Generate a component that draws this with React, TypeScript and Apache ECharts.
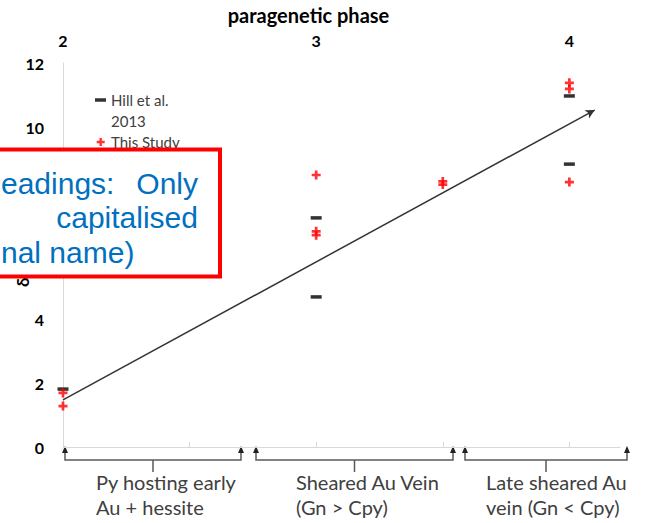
import React, { useEffect, useRef } from 'react';
import * as echarts from 'echarts';

// ---- data ----
const phaseTicks = [2, 3, 4];
const phaseMinorTicks = [2, 2.5, 3, 3.5, 4];
const seriesNames = ['Hill et al.\n2013', 'This Study'];
const hillData: [number, number][] = [
  [2, 1.81], [3, 7.16], [3, 4.69], [4, 10.97], [4, 8.84],
];
const studyData: [number, number][] = [
  [2, 1.69], [2, 1.28], [3, 8.5], [3, 6.62], [3, 6.74],
  [3.5, 8.2], [3.5, 8.3], [4, 11.38], [4, 11.19], [4, 8.28],
];
const trendStart: [number, number] = [2, 1.47];
const trendEnd: [number, number] = [4.1, 10.53];
const stageLabels = [
  'Py hosting early\nAu + hessite',
  'Sheared Au Vein\n(Gn > Cpy)',
  'Late sheared Au\nvein (Gn < Cpy)',
];
const noteLines = ['eadings:', 'Only', 'capitalised', 'nal name)'];

const CAL = 'Lato, "Open Sans", sans-serif';
const ARIAL = '"Liberation Sans", Arial, sans-serif';
const GREY_TXT = '#404040';
const BRACKET = '#595959';

const plusPath = 'path://M3.5,0h3v3.5h3.5v3h-3.5v3.5h-3v-3.5h-3.5v-3h3.5z';
const dashLegendIcon = 'path://M0,0L0,0ZM11,11L11,11ZM0,3.75h11v3.5h-11z';
const plusLegendIcon =
  'path://M0,0L0,0ZM11,11L11,11ZM4.5,1.5H6.9V4.3H9.7V6.7H6.9V9.5H4.5V6.7H1.7V4.3H4.5Z';

// bracket pixel spans (annotation under the plot)
const brackets = [
  { x1: 65, x2: 241, label: 96 },
  { x1: 256, x2: 453, label: 296 },
  { x1: 465, x2: 627, label: 486 },
];

function bracketGraphics() {
  const els: any[] = [];
  const yArrowTip = 446;
  const yBase = 453;
  const yLine = 460;
  brackets.forEach((b, i) => {
    els.push({
      type: 'polyline',
      shape: { points: [[b.x1, yBase], [b.x1, yLine], [b.x2, yLine], [b.x2, yBase]] },
      style: { stroke: BRACKET, lineWidth: 1.5, fill: null },
    });
    [b.x1, b.x2].forEach((x) => {
      els.push({
        type: 'polygon',
        shape: { points: [[x - 3, yBase], [x + 3, yBase], [x, yArrowTip]] },
        style: { fill: '#222', stroke: null },
      });
    });
    const mid = (b.x1 + b.x2) / 2;
    els.push({
      type: 'line',
      shape: { x1: mid, y1: yLine, x2: mid, y2: 472 },
      style: { stroke: BRACKET, lineWidth: 1.5 },
    });
    els.push({
      type: 'text',
      x: b.label,
      y: 469,
      style: {
        text: stageLabels[i],
        font: `20px ${CAL}`,
        fill: GREY_TXT,
        textAlign: 'left',
        textVerticalAlign: 'top',
        lineHeight: 25,
      },
    });
  });
  return els;
}

function noteGraphics() {
  const font = `30px ${ARIAL}`;
  const fill = '#0070C0';
  return [
    {
      type: 'rect',
      z: 100,
      shape: { x: -10, y: 149.5, width: 230, height: 127 },
      style: { fill: '#ffffff', stroke: '#ff0000', lineWidth: 4 },
    },
    { type: 'text', z: 101, x: 1, y: 183, style: { text: noteLines[0], font, fill, textAlign: 'left', textVerticalAlign: 'middle' } },
    { type: 'text', z: 101, x: 198, y: 183, style: { text: noteLines[1], font, fill, textAlign: 'right', textVerticalAlign: 'middle' } },
    { type: 'text', z: 101, x: 198, y: 217, style: { text: noteLines[2], font, fill, textAlign: 'right', textVerticalAlign: 'middle' } },
    { type: 'text', z: 101, x: 1, y: 252, style: { text: noteLines[3], font, fill, textAlign: 'left', textVerticalAlign: 'middle' } },
  ];
}

export default function App() {
  const ref = useRef<HTMLDivElement>(null);

  useEffect(() => {
    if (!ref.current) return;
    const chart = echarts.init(ref.current, null, { renderer: 'svg' });
    chart.setOption({
      animation: false,
      backgroundColor: '#ffffff',
      grid: { left: 63, right: 25, top: 63, bottom: 76, outerBoundsMode: 'none' },
      legend: {
        orient: 'vertical',
        left: 95,
        top: 68.5,
        padding: 0,
        itemGap: 0,
        itemWidth: 11,
        itemHeight: 11,
        selectedMode: false,
        formatter: (name: string) => (name === seriesNames[0] ? '\n' + name : name),
        textStyle: { fontFamily: CAL, fontSize: 15, color: GREY_TXT, lineHeight: 21 },
        data: [
          { name: seriesNames[0], icon: dashLegendIcon },
          { name: seriesNames[1], icon: plusLegendIcon },
        ],
      },
      xAxis: {
        type: 'value',
        position: 'top',
        min: 2,
        max: 4.2,
        interval: 0.5,
        name: 'paragenetic phase',
        nameLocation: 'middle',
        nameGap: 38,
        nameMoveOverlap: false,
        nameTextStyle: {
          fontFamily: CAL,
          fontWeight: 'bold',
          fontSize: 20,
          color: '#000',
          padding: [0, 66, 0, 0],
        },
        axisLine: { show: true, lineStyle: { color: '#d9d9d9', width: 1 } },
        axisTick: {
          show: true,
          length: 5,
          customValues: phaseMinorTicks,
          lineStyle: { color: '#d9d9d9' },
        },
        axisLabel: {
          customValues: phaseTicks,
          formatter: (v: number) => String(v),
          fontFamily: CAL,
          fontWeight: 'bold',
          fontSize: 16,
          color: '#000',
          margin: 15,
        },
        splitLine: { show: false },
      },
      yAxis: {
        type: 'value',
        min: 0,
        max: 12,
        interval: 2,
        name: 'δ³⁴S (‰)',
        nameLocation: 'middle',
        nameRotate: 90,
        nameGap: 32,
        nameMoveOverlap: false,
        nameTextStyle: { fontFamily: CAL, fontWeight: 'bold', fontSize: 17, color: '#000' },
        axisLine: { show: true, lineStyle: { color: '#d9d9d9', width: 1 } },
        axisTick: { show: false },
        axisLabel: {
          fontFamily: CAL,
          fontWeight: 'bold',
          fontSize: 16,
          color: '#000',
          margin: 19,
        },
        splitLine: { show: false },
      },
      series: [
        {
          name: seriesNames[0],
          type: 'scatter',
          data: hillData,
          symbol: 'rect',
          symbolSize: [11, 3.5],
          itemStyle: { color: '#000000' },
          z: 3,
          markLine: {
            silent: true,
            symbol: ['none', 'arrow'],
            symbolSize: [7, 9],
            lineStyle: { color: '#333333', width: 1.5, type: 'solid' },
            label: { show: false },
            emphasis: { disabled: true },
            data: [[{ coord: trendStart }, { coord: trendEnd }]],
          },
        },
        {
          name: seriesNames[1],
          type: 'scatter',
          data: studyData,
          symbol: plusPath,
          symbolSize: 9,
          itemStyle: { color: '#ff0000' },
          z: 4,
        },
      ],
      graphic: [...bracketGraphics(), ...noteGraphics()],
    });
    return () => chart.dispose();
  }, []);

  return (
    <div
      ref={ref}
      style={{ position: 'fixed', left: 0, top: 0, width: 645, height: 523, background: '#fff' }}
    />
  );
}
